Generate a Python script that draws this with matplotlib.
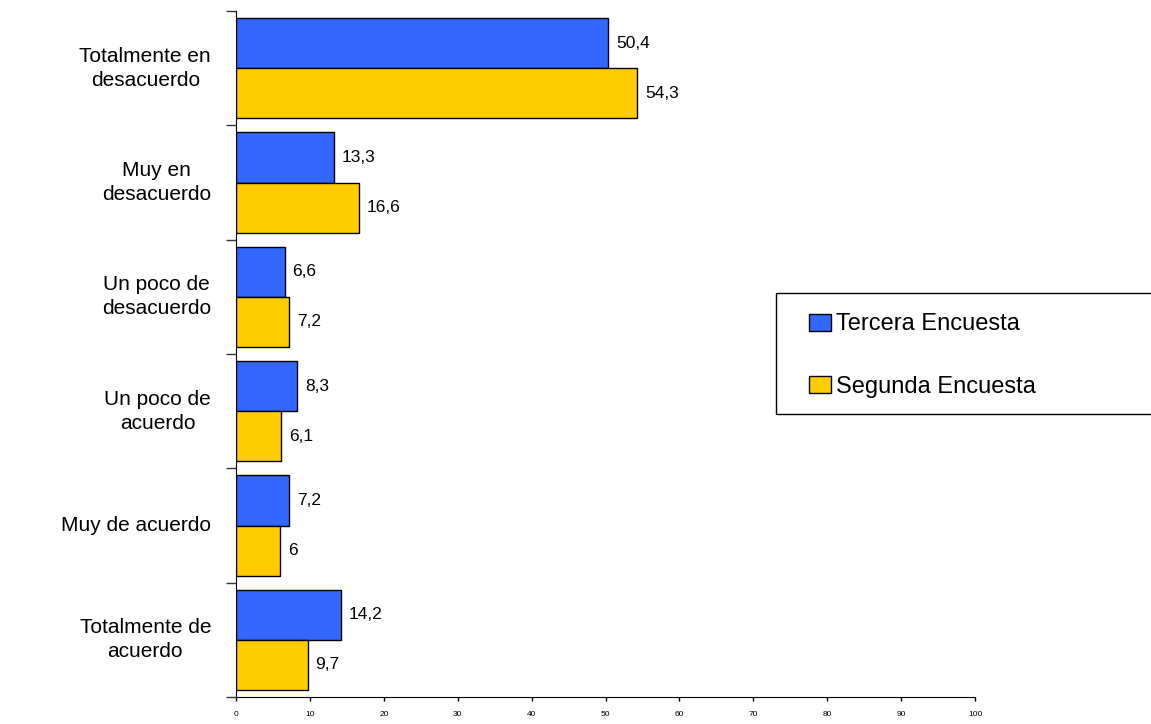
import matplotlib
matplotlib.use("Agg")
import matplotlib.pyplot as plt
import matplotlib.transforms as mtransforms
from matplotlib.patches import Rectangle
import numpy as np

plt.rcParams['font.family'] = ['Liberation Sans', 'DejaVu Sans']

categorias = ["Totalmente en\ndesacuerdo", "Muy en\ndesacuerdo", "Un poco de\ndesacuerdo",
              "Un poco de\nacuerdo", "Muy de acuerdo", "Totalmente de\nacuerdo"]
tercera = [50.4, 13.3, 6.6, 8.3, 7.2, 14.2]
segunda = [54.3, 16.6, 7.2, 6.1, 6.0, 9.7]
series = ["Tercera Encuesta", "Segunda Encuesta"]
colores = ["#3366FF", "#FFCC00"]

W, H = 1151, 724
fig = plt.figure(figsize=(W / 100, H / 100), dpi=100)
ax = fig.add_axes([236 / W, 27 / H, (975 - 236) / W, (697 - 11) / H])

y = np.arange(len(categorias))
h = 0.4375


def fmt(v):
    s = f"{v:.1f}".replace(".", ",")
    return s[:-2] if s.endswith(",0") else s


for k, (vals, col, lab) in enumerate(zip([tercera, segunda], colores, series)):
    pos = y + (k - 0.5) * h
    bars = ax.barh(pos, vals, height=h, color=col, edgecolor="black", linewidth=1, label=lab)
    for b, v in zip(bars, vals):
        ax.annotate(fmt(v), (v, b.get_y() + b.get_height() / 2), xytext=(5.5, 0),
                    textcoords="offset points", va="center", ha="left", fontsize=12.5)

ax.set_xlim(0, 100)
ax.set_ylim(len(categorias) - 0.5, -0.5)
ax.set_xticks(np.arange(0, 101, 10))
ax.tick_params(axis="x", labelsize=6, length=3, width=1, pad=7)
ax.set_yticks(np.arange(-0.5, len(categorias), 1))
ax.set_yticklabels([])
ax.tick_params(axis="y", length=7, width=1, color="#333333")
for s in ["top", "right"]:
    ax.spines[s].set_visible(False)
ax.spines["left"].set_color("black")
ax.spines["bottom"].set_color("black")

trans = mtransforms.blended_transform_factory(ax.transAxes, ax.transData)
off = mtransforms.ScaledTranslation(-25 / 100, 0, fig.dpi_scale_trans)
for i, c in enumerate(categorias):
    ax.text(0, i, c, transform=trans + off, ha="right", va="center",
            multialignment="center", fontsize=15, linespacing=1.35)

# legend frame drawn in figure pixels, legend items placed inside it
fig.patches.append(Rectangle((776 / W, 1 - 414 / H), (W + 2 - 776) / W, 121 / H,
                             transform=fig.transFigure, facecolor="white",
                             edgecolor="black", linewidth=1, zorder=1))
leg = fig.legend(loc="center left", bbox_to_anchor=(809 / W, 1 - 355.5 / H),
                 fontsize=17, frameon=False, borderpad=0, labelspacing=1.7,
                 handlelength=0.95, handleheight=0.75, handletextpad=0.2,
                 borderaxespad=0)
leg.set_zorder(2)

fig.savefig("out.png", dpi=100)
